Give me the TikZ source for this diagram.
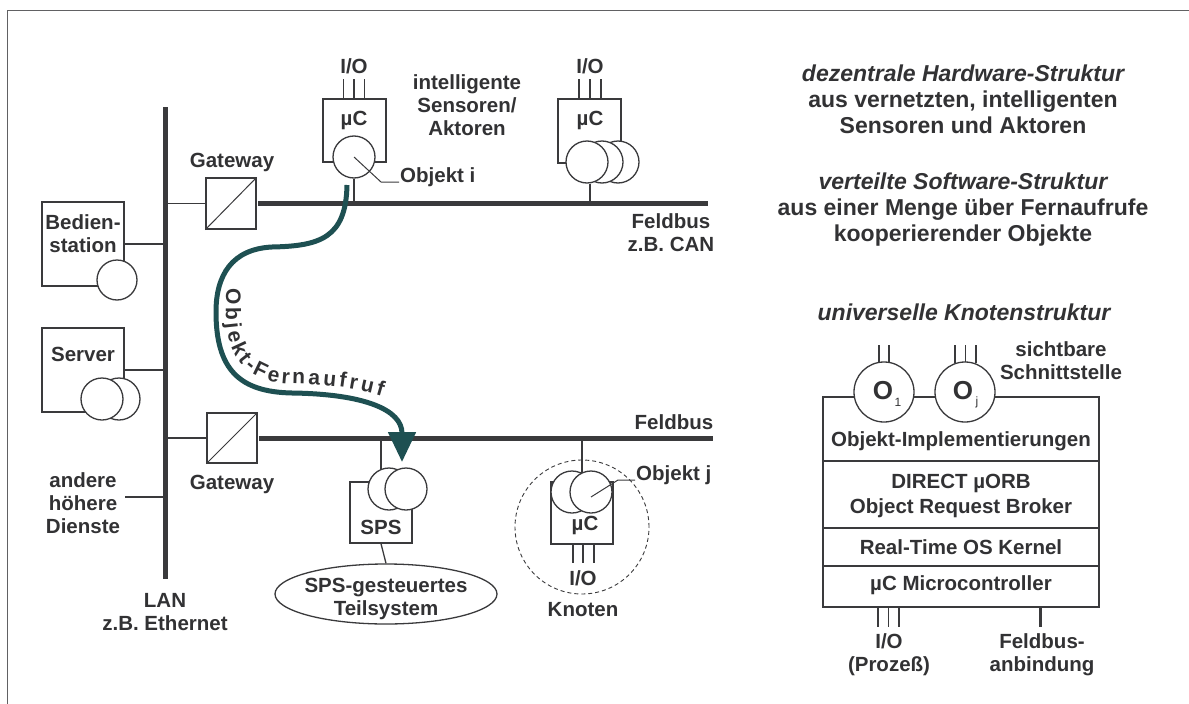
\documentclass[tikz,border=0pt]{standalone}
\usepackage{fontspec}
\setmainfont{Liberation Sans}
\usetikzlibrary{arrows.meta,decorations.text,shapes.geometric}
\definecolor{dk}{RGB}{58,58,60}
\definecolor{tx}{RGB}{50,50,52}
\definecolor{arrc}{RGB}{30,80,82}
\newcommand\lf{\fontsize{20.5}{23}\selectfont\bfseries}
\newcommand\rf{\fontsize{23}{26}\selectfont\bfseries}
\tikzset{
  ln/.style={draw=dk,line width=1.3pt},
  bus/.style={draw=dk,line width=5pt},
  box/.style={rectangle,draw=dk,line width=1.3pt,fill=white,inner sep=0pt},
  obj/.style={circle,draw=dk,line width=1.3pt,fill=white,inner sep=0pt,minimum size=#1},
  obj/.default=42pt,
  lbl/.style={font=\lf,text=tx,align=center,inner sep=0pt},
  rlbl/.style={font=\rf,text=tx,align=center,inner sep=0pt},
}
\begin{document}
\begin{tikzpicture}[x=1pt,y=-1pt]
\useasboundingbox (0,0) rectangle (1189,704);
% frame
\draw[draw=dk!80,line width=1pt] (7,704) coordinate (fBL) -- (7,10) coordinate (fTL) -- (1189,10) coordinate (fTR);

% LAN
\coordinate (lanT) at (165.5,107);
\coordinate (lanB) at (165.5,579);
\draw[bus] (lanT) -- (lanB);
\node[lbl] (lanlbl) at (165,612) {LAN\\z.B. Ethernet};

% Bedienstation
\node[box,minimum width=82pt,minimum height=84pt] (bed) at (83,244) {};
\node[lbl] (bedt) at (83,233.5) {Bedien-\\station};
\node[obj=40pt] (bedo) at (117,280) {};
\draw[ln] (bed.east) -- (bed.east -| lanT);

% Server
\node[box,minimum width=82pt,minimum height=84pt] (srv) at (83,370) {};
\node[lbl] (srvt) at (83,354) {Server};
\node[obj] (srvb) at (119,399) {};
\node[obj] (srvf) at (102,399) {};
\draw[ln] (srv.east) -- (srv.east -| lanT);

% andere hoehere Dienste
\node[lbl] (andt) at (83,503) {andere\\höhere\\Dienste};
\coordinate (andc) at (125,497);
\draw[ln] (andc) -- (andc -| lanT);

% Gateway 1 + Feldbus 1
\node[box,minimum width=50pt,minimum height=51pt] (gw1) at (231,203.5) {};
\draw[dk,line width=1pt] (gw1.south west) -- (gw1.north east);
\node[lbl] (gw1t) at (232,162) {Gateway};
\draw[ln] (gw1.west) -- (gw1.west -| lanT);
\coordinate (fb1S) at (258,203.5);
\coordinate (fb1E) at (708,203.5);
\draw[bus] (fb1S) -- (fb1E);
\node[lbl] (fb1t) at (671,233) {Feldbus\\z.B. CAN};

% Gateway 2 + Feldbus 2
\node[box,minimum width=50pt,minimum height=50pt] (gw2) at (232,438) {};
\draw[dk,line width=1pt] (gw2.south west) -- (gw2.north east);
\node[lbl] (gw2t) at (232,484) {Gateway};
\draw[ln] (gw2.west) -- (gw2.west -| lanT);
\coordinate (fb2S) at (259,438);
\coordinate (fb2E) at (713,438);
\draw[bus] (fb2S) -- (fb2E);
\node[lbl] (fb2t) at (674,422) {Feldbus};

% muC node 1 (Objekt i)
\node[box,minimum width=63pt,minimum height=63pt] (mc1) at (354.5,130.5) {};
\foreach \xx in {343.5,354,364.5} \draw[ln] (\xx,79) -- (\xx,99);
\node[lbl] (io1) at (354,66) {I/O};
\node[lbl] (mc1t) at (354,120) {µC};
\node[obj] (oi) at (354,157) {};
\draw[ln] (oi.south) -- (oi.south |- fb1E);
\draw[dk,line width=1pt] (oi.center) -- ++(27,25) -- ++(18,0) coordinate (oil);
\node[lbl,anchor=base west] (oit) at ([xshift=1pt]oil) {Objekt i};
\node[lbl] (intl) at (467,105) {intelligente\\Sensoren/\\Aktoren};

% muC node 2
\node[box,minimum width=63pt,minimum height=64pt] (mc2) at (589.5,131) {};
\foreach \xx in {579,590,601} \draw[ln] (\xx,79) -- (\xx,99);
\node[lbl] (io2) at (590,66) {I/O};
\node[lbl] (mc2t) at (590,120) {µC};
\node[obj] (o2c) at (618,162) {};
\node[obj] (o2b) at (602,162) {};
\node[obj] (o2a) at (587,162) {};
\draw[ln] ([xshift=3pt]o2a.south) -- ([xshift=3pt]o2a.south |- fb1E);

% SPS
\node[box,minimum width=62pt,minimum height=61pt] (sps) at (381,512.5) {};
\draw[ln] (sps.north) -- (sps.north |- fb2E);
\node[obj] (spsb) at (389,489) {};
\node[obj] (spsf) at (406,489) {};
\node[lbl] (spst) at (381,527) {SPS};
\node[ellipse,draw=dk,line width=1.3pt,minimum width=222pt,minimum height=60pt,inner sep=0pt] (tsys) at (386,594) {};
\draw[ln] (sps.south) -- (tsys.north);
\node[lbl] (tsyst) at (386,599) {SPS-gesteuertes\\Teilsystem};

% Knoten
\node[circle,draw=dk,line width=0.9pt,dash pattern=on 4pt off 3pt,minimum size=134pt,inner sep=0pt] (kn) at (582,527) {};
\node[box,minimum width=62pt,minimum height=62pt] (mc3) at (582,513) {};
\draw[ln] (mc3.north) -- (mc3.north |- fb2E);
\node[obj] (ojb) at (572,492) {};
\node[obj] (ojf) at (591,492) {};
\node[lbl] (mc3t) at (585,525) {µC};
\foreach \xx in {573,583,594} \draw[ln] (\xx,544) -- (\xx,563);
\node[lbl] (io3) at (583,578) {I/O};
\node[lbl] (knt) at (583,610) {Knoten};
\draw[dk,line width=1pt] ([yshift=-5pt]ojf.center) -- ++(27,-17) -- ++(17,0) coordinate (ojl);
\node[lbl,anchor=base west] (ojt) at ([xshift=1pt]ojl) {Objekt j};

% remote call curve
\coordinate (cS) at (347,185);
\coordinate (cE) at (402,462);
\draw[arrc,line width=5pt,-{Triangle[width=27pt,length=30pt]}]
  (cS) .. controls (346,238) and (320,246) .. (272,247)
       .. controls (232,249) and (216,275) .. (216,312)
       .. controls (216,370) and (240,392) .. (292,393)
       .. controls (365,394) and (402,410) .. (cE);
\path[decorate,decoration={text along path,raise=0pt,text color=tx,
   text align=fit to path,
   text={|\fontsize{21}{24}\selectfont\bfseries|Objekt-Fernaufruf}}]
  (226,288) -- (226,312)
       .. controls (226,360) and (248,383) .. (292,384)
       .. controls (328,384.5) and (356,388) .. (382,396);

% right texts
\node[rlbl] (hw) at (963,99) {{\itshape dezentrale Hardware-Struktur}\\aus vernetzten, intelligenten\\Sensoren und Aktoren};
\node[rlbl] (sw) at (963,210) {{\itshape verteilte Software-Struktur}\\aus einer Menge über Fernaufrufe\\kooperierender Objekte};
\node[rlbl,font=\rf\itshape] (uk) at (964,312) {universelle Knotenstruktur};

% node structure
\node[box,minimum width=276pt,minimum height=210pt] (kb) at (961,502) {};
\foreach \xx in {879,889} \draw[ln] (\xx,345) -- (\xx,363);
\foreach \xx in {955,965.5,976} \draw[ln] (\xx,345) -- (\xx,363);
\node[obj=60pt] (o1) at (884,392) {};
\node[obj=60pt] (oj) at (965,392) {};
\node[inner sep=0pt,text=tx,font=\fontsize{26}{26}\selectfont\bfseries] (o1t) at (883,391) {O};
\node[inner sep=0pt,text=tx,font=\fontsize{12}{12}\selectfont] (o1s) at (898,402) {1};
\node[inner sep=0pt,text=tx,font=\fontsize{26}{26}\selectfont\bfseries] (ojt2) at (963,391) {O};
\node[inner sep=0pt,text=tx,font=\fontsize{12}{12}\selectfont] (ojs) at (977,402) {j};
\node[lbl] (sicht) at (1061,360.5) {sichtbare\\Schnittstelle};
\foreach \yy in {461,528,566} \draw[ln] (kb.west |- 0,\yy) -- (kb.east |- 0,\yy);
\node[lbl] (l1) at (961,441) {Objekt-Implementierungen};
\node[lbl,font=\fontsize{20.5}{25}\selectfont\bfseries] (l2) at (961,495.5) {DIRECT µORB\\Object Request Broker};
\node[lbl] (l3) at (961,547) {Real-Time OS Kernel};
\node[lbl] (l4) at (961,585) {µC Microcontroller};
\foreach \xx in {878,888.5,899} \draw[ln] (\xx,607) -- (\xx,627);
\draw[dk,line width=3pt] (kb.south -| 1040,0) -- (1040,627);
\node[lbl] (iop) at (889,655) {I/O\\(Prozeß)};
\node[lbl] (fba) at (1042,655) {Feldbus-\\anbindung};
\end{tikzpicture}
\end{document}
